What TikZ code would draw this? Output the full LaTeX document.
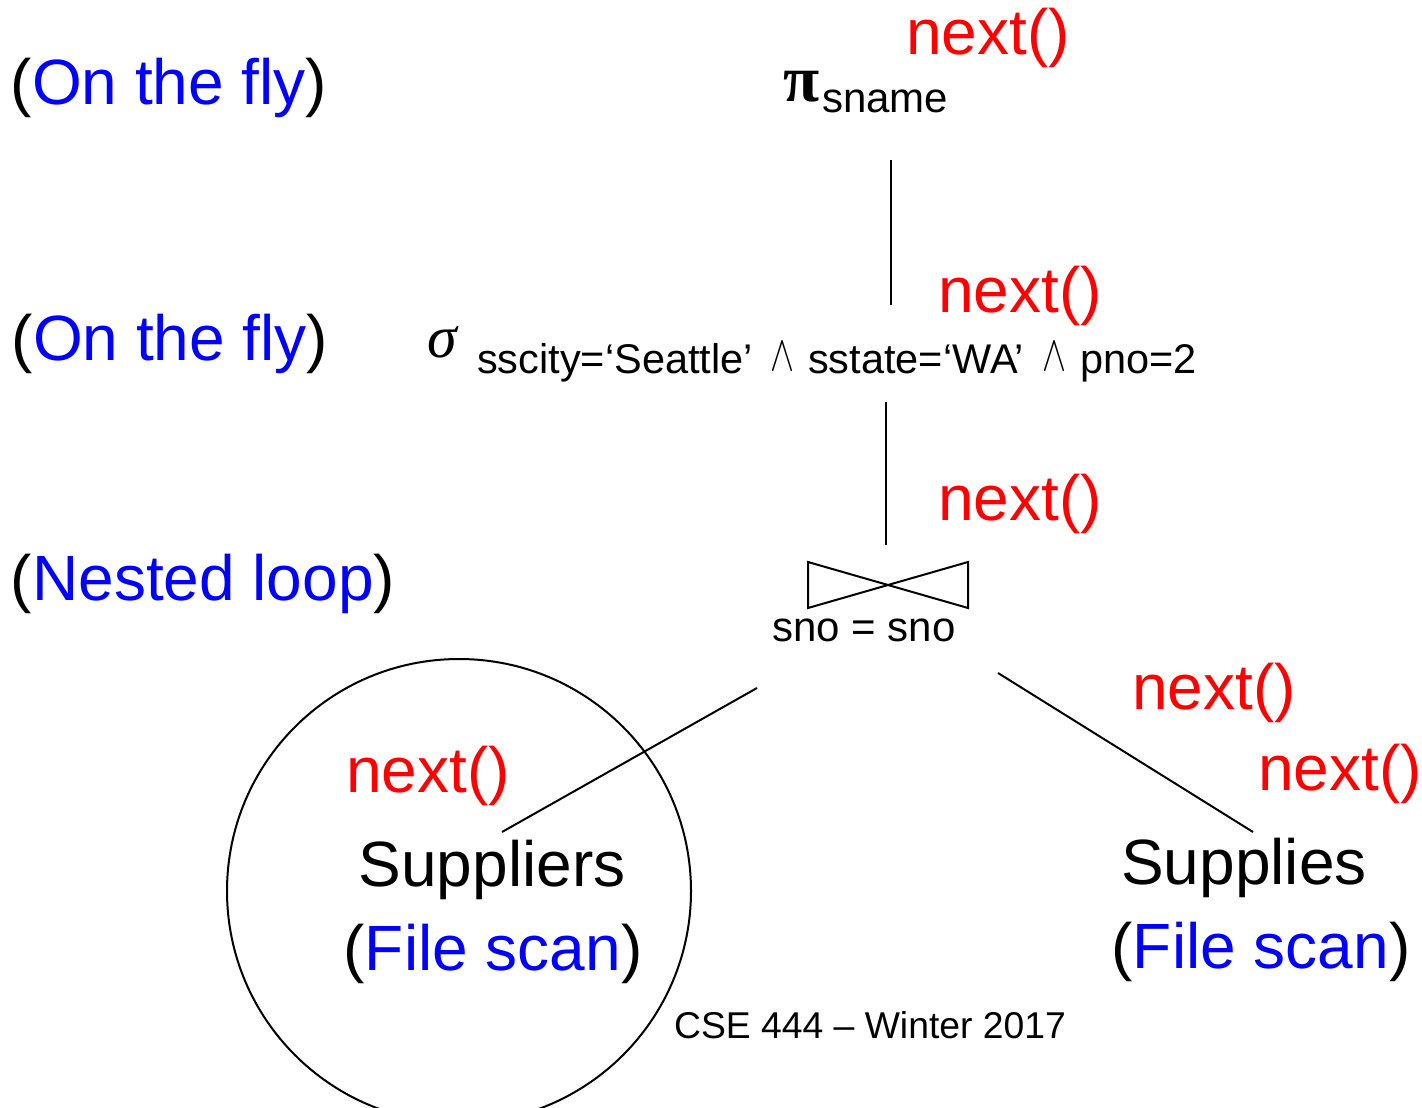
\documentclass[tikz,border=0pt]{standalone}
\usepackage{fontspec}
\usepackage{graphicx}
\setmainfont{Liberation Sans}
\newfontfamily\greekserif{Liberation Serif}
\newcommand{\thinwedge}{\raisebox{3pt}{\resizebox{24pt}{28pt}{$\wedge$}}}
\begin{document}
\begin{tikzpicture}[x=1pt,y=-1pt,
  txt/.style={inner sep=0pt, anchor=base, font=\fontsize{64}{70}\selectfont},
  mid/.style={inner sep=0pt, anchor=base, font=\fontsize{42}{46}\selectfont},
  nxt/.style={txt, text=red},
  edge/.style={line width=2pt}]
\useasboundingbox[fill=white] (0,0) rectangle (1422,1108);

% strategy labels
\node[txt] (otf1) at (169,104) {(\textcolor{blue}{On the fly})};
\node[txt] (otf2) at (170,360) {(\textcolor{blue}{On the fly})};
\node[txt] (nl) at (203,600) {(\textcolor{blue}{Nested loop})};

% projection
\node[inner sep=0pt, anchor=base, font=\fontsize{66}{70}\selectfont\greekserif\bfseries] (pi) at (802,102) {π};
\node[mid, anchor=base west] (sname) at (822,113) {sname};
\node[nxt] (n1) at (988,55) {next()};

% selection
\node[inner sep=0pt, anchor=base, font=\fontsize{60}{66}\selectfont\greekserif\itshape] (sigma) at (442,357) {σ};
\node[mid, font=\fontsize{41.5}{46}\selectfont, anchor=base west] (cond) at (477,373) {\makebox[280pt][l]{sscity=‘Seattle’}\makebox[51pt]{\thinwedge}\makebox[220pt][l]{sstate=‘WA’}\makebox[52pt]{\thinwedge}pno=2};
\node[nxt] (n2) at (1020,312) {next()};

% join
\coordinate (bt1) at (808,562);
\coordinate (bt2) at (808,608);
\coordinate (bt3) at (968,562);
\coordinate (bt4) at (968,608);
\draw[edge, line join=miter] (bt1) -- (bt2) -- (bt3) -- (bt4) -- cycle;
\node[mid] (join) at (864,641) {sno = sno};
\node[nxt] (n3) at (1020,520) {next()};

% leaves
\node[txt] (suppliers) at (492,886) {Suppliers};
\node[txt] (fs1) at (493,970) {(\textcolor{blue}{File scan})};
\node[nxt] (n4) at (428,792) {next()};
\node[txt] (supplies) at (1244,884) {Supplies};
\node[txt] (fs2) at (1261,968) {(\textcolor{blue}{File scan})};
\node[nxt] (n5) at (1214,709) {next()};
\node[nxt] (n6) at (1340,790) {next()};

\draw[line width=2pt] (459,891) circle[radius=232];

% connectors
\coordinate (a1) at (891,160);
\coordinate (a2) at (891,305);
\coordinate (b1) at (886,402);
\coordinate (b2) at (886,545);
\coordinate (c1) at (757,688);
\coordinate (c2) at (502,832);
\coordinate (d1) at (998,673);
\coordinate (d2) at (1253,832);
\draw[edge] (a1) -- (a2);
\draw[edge] (b1) -- (b2);
\draw[edge] (c1) -- (c2);
\draw[edge] (d1) -- (d2);

\node[inner sep=0pt, anchor=base, font=\fontsize{37.3}{42}\selectfont] (footer) at (870,1038) {CSE 444 – Winter 2017};
\end{tikzpicture}
\end{document}
